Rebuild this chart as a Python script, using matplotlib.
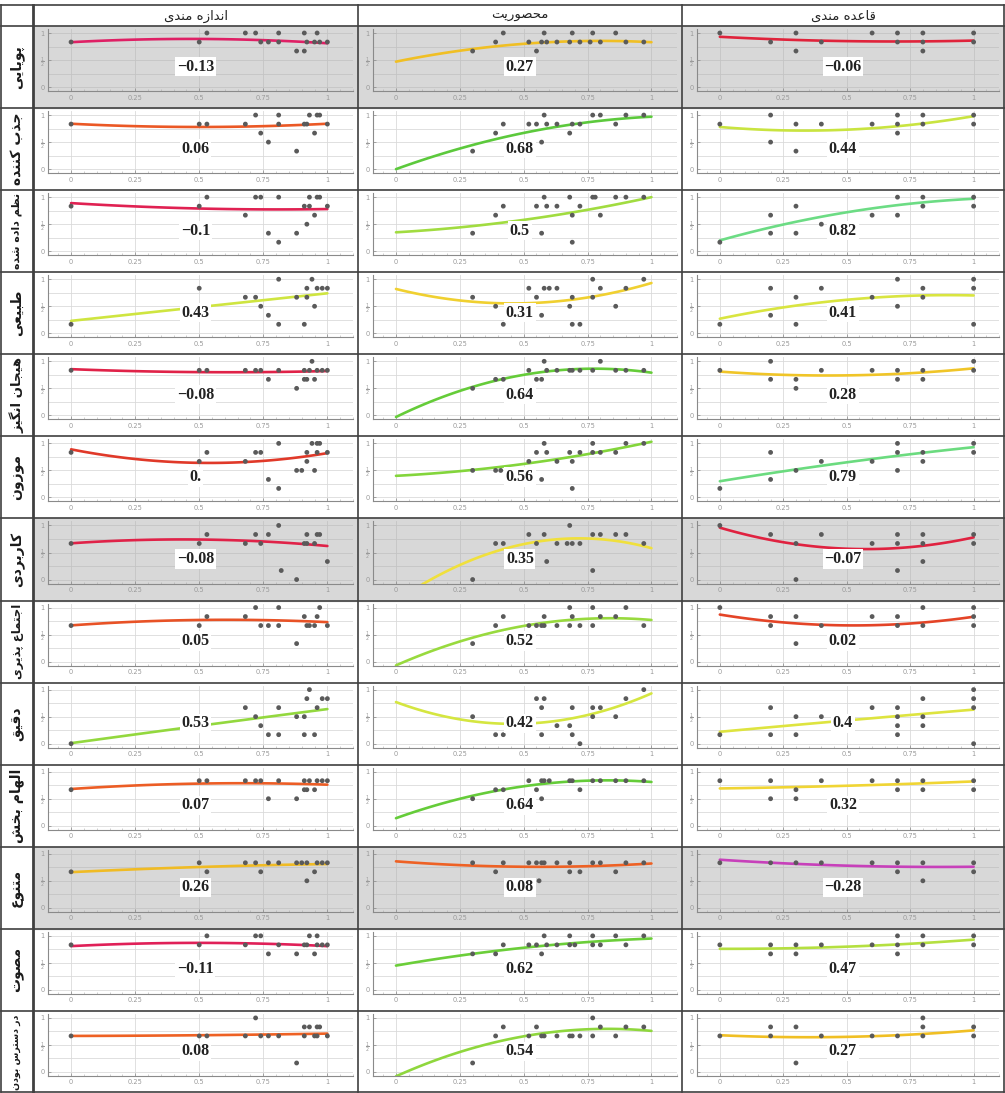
import numpy as np
import matplotlib
matplotlib.use('Agg')
import matplotlib.pyplot as plt
from matplotlib.patches import Rectangle
from matplotlib.lines import Line2D
from matplotlib.colors import LinearSegmentedColormap
from matplotlib.ticker import FixedLocator, MultipleLocator

# column headers (left to right) and row attributes (top to bottom)
col_titles = ['اندازه مندی', 'محصوریت', 'قاعده مندی']
row_labels = ['پویایی', 'جذب کننده', 'نظم داده شده', 'طبیعی', 'هیجان انگیز', 'موزون',
              'کاربردی', 'اجتماع پذیری', 'دقیق', 'الهام بخش', 'متنوع', 'مصوت',
              'در دسترس بودن']
shaded_rows = [0, 6, 10]

# correlation coefficients per row
r_size = [-0.13, 0.06, -0.1, 0.43, -0.08, 0.0, -0.08, 0.05, 0.53, 0.07, 0.26, -0.11, 0.08]
r_encl = [0.27, 0.68, 0.5, 0.31, 0.64, 0.56, 0.35, 0.52, 0.42, 0.64, 0.08, 0.62, 0.54]
r_order = [-0.06, 0.44, 0.82, 0.41, 0.28, 0.79, -0.07, 0.02, 0.4, 0.32, -0.28, 0.47, 0.27]

# trend curve values at x = 0, 0.5, 1
fit_size = [(0.83, 0.89, 0.81), (0.84, 0.78, 0.84), (0.89, 0.79, 0.78), (0.23, 0.485, 0.74),
            (0.855, 0.80, 0.82), (0.89, 0.64, 0.82), (0.67, 0.74, 0.62), (0.67, 0.77, 0.73),
            (0.01, 0.33, 0.64), (0.68, 0.78, 0.76), (0.66, 0.755, 0.81), (0.81, 0.87, 0.81),
            (0.667, 0.68, 0.71)]
fit_encl = [(0.47, 0.80, 0.83), (0.0, 0.67, 0.97), (0.35, 0.58, 1.0), (0.82, 0.555, 0.93),
            (-0.03, 0.75, 0.79), (0.40, 0.62, 1.03), (-0.40, 0.655, 0.58), (-0.07, 0.66, 0.77),
            (0.77, 0.37, 0.93), (0.14, 0.73, 0.81), (0.86, 0.76, 0.82), (0.45, 0.78, 0.95),
            (-0.08, 0.66, 0.76)]
fit_order = [(0.93, 0.85, 0.86), (0.78, 0.73, 0.98), (0.20, 0.72, 0.97), (0.27, 0.62, 0.70),
             (0.81, 0.74, 0.87), (0.30, 0.65, 0.93), (0.96, 0.57, 0.78), (0.87, 0.67, 0.83),
             (0.22, 0.43, 0.63), (0.69, 0.74, 0.82), (0.89, 0.78, 0.76), (0.76, 0.80, 0.93),
             (0.68, 0.65, 0.77)]

# scatter points: (x, score in sixths)
size_pts = [
    [(0, 5), (0.5, 5), (0.53, 6), (0.68, 6), (0.72, 6), (0.74, 5), (0.77, 5), (0.81, 5), (0.81, 6),
     (0.88, 4), (0.91, 4), (0.91, 6), (0.92, 5), (0.95, 5), (0.97, 5), (1.0, 5), (0.96, 6)],
    [(0, 5), (0.5, 5), (0.53, 5), (0.68, 5), (0.72, 6), (0.74, 4), (0.77, 3), (0.81, 6), (0.81, 5),
     (0.88, 2), (0.91, 5), (0.92, 5), (0.93, 6), (0.95, 4), (0.96, 6), (0.97, 6), (1.0, 5)],
    [(0, 5), (0.5, 5), (0.53, 6), (0.68, 4), (0.72, 6), (0.74, 6), (0.77, 2), (0.81, 1), (0.81, 6),
     (0.88, 2), (0.91, 5), (0.92, 3), (0.93, 5), (0.93, 6), (0.95, 4), (0.96, 6), (0.97, 6), (1.0, 5)],
    [(0, 1), (0.5, 5), (0.68, 4), (0.72, 4), (0.74, 3), (0.77, 2), (0.81, 6), (0.81, 1), (0.88, 4),
     (0.91, 1), (0.92, 5), (0.92, 4), (0.94, 6), (0.95, 3), (0.96, 5), (0.98, 5), (1.0, 5)],
    [(0, 5), (0.5, 5), (0.53, 5), (0.68, 5), (0.72, 5), (0.74, 5), (0.77, 4), (0.81, 5), (0.88, 3),
     (0.91, 4), (0.92, 4), (0.91, 5), (0.93, 5), (0.95, 4), (0.94, 6), (0.96, 5), (0.98, 5), (1.0, 5)],
    [(0, 5), (0.5, 4), (0.53, 5), (0.68, 4), (0.72, 5), (0.74, 5), (0.77, 2), (0.81, 6), (0.81, 1),
     (0.88, 3), (0.9, 3), (0.92, 4), (0.92, 5), (0.94, 6), (0.95, 3), (0.96, 6), (0.97, 6), (0.96, 5),
     (1.0, 5)],
    [(0, 4), (0.5, 4), (0.53, 5), (0.68, 4), (0.72, 5), (0.74, 4), (0.77, 5), (0.81, 6), (0.82, 1),
     (0.88, 0), (0.91, 4), (0.92, 4), (0.95, 4), (0.92, 5), (0.96, 5), (0.97, 5), (1.0, 2)],
    [(0, 4), (0.5, 4), (0.53, 5), (0.68, 5), (0.72, 6), (0.74, 4), (0.77, 4), (0.81, 6), (0.81, 4),
     (0.88, 2), (0.91, 5), (0.92, 4), (0.93, 4), (0.95, 4), (0.96, 5), (0.97, 6), (1.0, 4)],
    [(0, 0), (0.68, 4), (0.72, 3), (0.74, 2), (0.77, 1), (0.81, 1), (0.81, 4), (0.88, 3), (0.91, 3),
     (0.91, 1), (0.92, 5), (0.93, 6), (0.95, 1), (0.96, 4), (0.98, 5), (1.0, 5)],
    [(0, 4), (0.5, 5), (0.53, 5), (0.68, 5), (0.72, 5), (0.74, 5), (0.77, 3), (0.81, 5), (0.88, 3),
     (0.91, 4), (0.92, 4), (0.91, 5), (0.93, 5), (0.95, 4), (0.96, 5), (0.98, 5), (1.0, 5)],
    [(0, 4), (0.5, 5), (0.53, 4), (0.68, 5), (0.72, 5), (0.74, 4), (0.77, 5), (0.81, 5), (0.88, 5),
     (0.9, 5), (0.92, 5), (0.92, 3), (0.95, 4), (0.96, 5), (0.98, 5), (1.0, 5)],
    [(0, 5), (0.5, 5), (0.53, 6), (0.68, 5), (0.72, 6), (0.74, 6), (0.77, 4), (0.81, 5), (0.88, 4),
     (0.91, 5), (0.92, 5), (0.93, 6), (0.95, 4), (0.96, 6), (0.96, 5), (0.98, 5), (1.0, 5)],
    [(0, 4), (0.5, 4), (0.53, 4), (0.68, 4), (0.72, 6), (0.74, 4), (0.77, 4), (0.81, 4), (0.88, 1),
     (0.91, 4), (0.91, 5), (0.93, 5), (0.95, 4), (0.96, 4), (0.96, 5), (0.97, 5), (1.0, 4)],
]
encl_pts = [
    [(0.3, 4), (0.39, 5), (0.42, 6), (0.52, 5), (0.55, 4), (0.58, 6), (0.57, 5), (0.59, 5), (0.63, 5),
     (0.69, 6), (0.68, 5), (0.72, 5), (0.77, 6), (0.76, 5), (0.8, 5), (0.86, 6), (0.9, 5), (0.97, 5)],
    [(0.3, 2), (0.39, 4), (0.42, 5), (0.52, 5), (0.55, 5), (0.58, 6), (0.57, 3), (0.59, 5), (0.63, 5),
     (0.68, 4), (0.69, 5), (0.72, 5), (0.77, 6), (0.8, 6), (0.86, 5), (0.9, 6), (0.97, 6)],
    [(0.3, 2), (0.39, 4), (0.42, 5), (0.55, 5), (0.58, 6), (0.57, 2), (0.59, 5), (0.63, 5), (0.68, 6),
     (0.69, 4), (0.69, 1), (0.72, 5), (0.77, 6), (0.78, 6), (0.8, 4), (0.86, 6), (0.9, 6), (0.97, 6)],
    [(0.3, 4), (0.39, 3), (0.42, 1), (0.52, 5), (0.55, 4), (0.57, 2), (0.58, 5), (0.6, 5), (0.63, 5),
     (0.68, 3), (0.69, 4), (0.69, 1), (0.72, 1), (0.77, 6), (0.77, 4), (0.8, 5), (0.86, 3), (0.9, 5),
     (0.97, 6)],
    [(0.3, 3), (0.39, 4), (0.42, 4), (0.52, 5), (0.55, 4), (0.57, 4), (0.58, 6), (0.59, 5), (0.63, 5),
     (0.68, 5), (0.69, 5), (0.72, 5), (0.77, 5), (0.8, 6), (0.86, 5), (0.9, 5), (0.97, 5)],
    [(0.3, 3), (0.39, 3), (0.41, 3), (0.52, 4), (0.55, 5), (0.57, 2), (0.58, 6), (0.59, 5), (0.63, 4),
     (0.68, 5), (0.69, 4), (0.69, 1), (0.72, 5), (0.77, 6), (0.77, 5), (0.8, 5), (0.86, 5), (0.9, 6),
     (0.97, 6)],
    [(0.3, 0), (0.39, 4), (0.42, 4), (0.52, 5), (0.55, 4), (0.58, 5), (0.59, 2), (0.63, 4), (0.68, 6),
     (0.67, 4), (0.69, 4), (0.72, 4), (0.77, 5), (0.8, 5), (0.77, 1), (0.86, 5), (0.9, 5), (0.97, 4)],
    [(0.3, 2), (0.39, 4), (0.42, 5), (0.52, 4), (0.55, 4), (0.57, 4), (0.58, 4), (0.58, 5), (0.63, 4),
     (0.68, 6), (0.68, 4), (0.69, 5), (0.72, 4), (0.77, 6), (0.77, 4), (0.8, 5), (0.86, 5), (0.9, 6),
     (0.97, 4)],
    [(0.3, 3), (0.39, 1), (0.42, 1), (0.55, 5), (0.58, 5), (0.57, 4), (0.57, 1), (0.63, 2), (0.68, 2),
     (0.69, 4), (0.69, 1), (0.72, 0), (0.77, 4), (0.8, 4), (0.77, 3), (0.86, 3), (0.9, 5), (0.97, 6)],
    [(0.3, 3), (0.39, 4), (0.42, 4), (0.52, 5), (0.55, 4), (0.57, 5), (0.58, 5), (0.6, 5), (0.57, 3),
     (0.68, 5), (0.69, 5), (0.72, 4), (0.77, 5), (0.8, 5), (0.86, 5), (0.9, 5), (0.97, 5)],
    [(0.3, 5), (0.39, 4), (0.42, 5), (0.52, 5), (0.55, 5), (0.57, 5), (0.58, 5), (0.63, 5), (0.68, 5),
     (0.68, 4), (0.72, 4), (0.77, 5), (0.8, 5), (0.86, 4), (0.9, 5), (0.97, 5), (0.56, 3)],
    [(0.3, 4), (0.39, 4), (0.42, 5), (0.52, 5), (0.55, 5), (0.57, 4), (0.58, 6), (0.59, 5), (0.63, 5),
     (0.68, 6), (0.68, 5), (0.7, 5), (0.77, 6), (0.77, 5), (0.8, 5), (0.86, 6), (0.9, 5), (0.97, 6)],
    [(0.3, 1), (0.39, 4), (0.42, 5), (0.52, 4), (0.55, 5), (0.57, 4), (0.58, 4), (0.63, 4), (0.68, 4),
     (0.69, 4), (0.72, 4), (0.77, 6), (0.77, 4), (0.8, 5), (0.86, 4), (0.9, 5), (0.97, 5)],
]
order_pts = [
    [(0, 6), (0.2, 5), (0.3, 6), (0.3, 4), (0.4, 5), (0.6, 6), (0.7, 6), (0.7, 5), (0.8, 6), (0.8, 5),
     (0.8, 4), (1, 6), (1, 5)],
    [(0, 5), (0.2, 6), (0.2, 3), (0.3, 5), (0.3, 2), (0.4, 5), (0.6, 5), (0.7, 6), (0.7, 5), (0.7, 4),
     (0.8, 6), (0.8, 5), (1, 6), (1, 5)],
    [(0, 1), (0.2, 4), (0.2, 2), (0.3, 5), (0.3, 2), (0.4, 3), (0.6, 4), (0.7, 6), (0.7, 4), (0.8, 6),
     (0.8, 5), (1, 6), (1, 5)],
    [(0, 1), (0.2, 5), (0.2, 2), (0.3, 4), (0.3, 1), (0.4, 5), (0.6, 4), (0.7, 6), (0.7, 3), (0.8, 5),
     (0.8, 4), (1, 6), (1, 5), (1, 1)],
    [(0, 5), (0.2, 6), (0.2, 4), (0.3, 4), (0.3, 3), (0.4, 5), (0.6, 5), (0.7, 5), (0.7, 4), (0.8, 5),
     (0.8, 4), (1, 6), (1, 5)],
    [(0, 1), (0.2, 5), (0.2, 2), (0.3, 3), (0.4, 4), (0.6, 4), (0.7, 6), (0.7, 5), (0.7, 3), (0.8, 5),
     (0.8, 4), (1, 6), (1, 5)],
    [(0, 6), (0.2, 5), (0.3, 4), (0.3, 0), (0.4, 5), (0.6, 4), (0.7, 5), (0.7, 4), (0.7, 1), (0.8, 5),
     (0.8, 4), (0.8, 2), (1, 5), (1, 4)],
    [(0, 6), (0.2, 5), (0.2, 4), (0.3, 5), (0.3, 2), (0.4, 4), (0.6, 5), (0.7, 5), (0.7, 4), (0.8, 6),
     (0.8, 4), (1, 6), (1, 5), (1, 4)],
    [(0, 1), (0.2, 4), (0.2, 1), (0.3, 3), (0.3, 1), (0.4, 3), (0.6, 4), (0.7, 4), (0.7, 3), (0.7, 2),
     (0.7, 1), (0.8, 5), (0.8, 3), (0.8, 2), (1, 6), (1, 5), (1, 4), (1, 0)],
    [(0, 5), (0.2, 5), (0.2, 3), (0.3, 4), (0.3, 3), (0.4, 5), (0.6, 5), (0.7, 5), (0.7, 4), (0.8, 5),
     (0.8, 4), (1, 5), (1, 4)],
    [(0, 5), (0.2, 5), (0.3, 5), (0.4, 5), (0.6, 5), (0.7, 5), (0.7, 4), (0.8, 5), (0.8, 3), (1, 5),
     (1, 4)],
    [(0, 5), (0.2, 5), (0.2, 4), (0.3, 5), (0.3, 4), (0.4, 5), (0.6, 5), (0.7, 6), (0.7, 5), (0.7, 4),
     (0.8, 6), (0.8, 5), (1, 6), (1, 5)],
    [(0, 4), (0.2, 5), (0.2, 4), (0.3, 5), (0.3, 1), (0.4, 4), (0.6, 4), (0.7, 4), (0.8, 6), (0.8, 5),
     (0.8, 4), (1, 5), (1, 4)],
]

columns = [(size_pts, fit_size, r_size), (encl_pts, fit_encl, r_encl), (order_pts, fit_order, r_order)]

# matplotlib has no Arabic shaping, so map letters to presentation forms by hand
# value: (isolated-form code point, joins to the following letter)
ARABIC = {
    'ا': (0xFE8D, False), 'ب': (0xFE8F, True), 'ت': (0xFE95, True), 'ج': (0xFE9D, True),
    'ح': (0xFEA1, True), 'خ': (0xFEA5, True), 'د': (0xFEA9, False), 'ذ': (0xFEAB, False),
    'ر': (0xFEAD, False), 'ز': (0xFEAF, False), 'س': (0xFEB1, True), 'ش': (0xFEB5, True),
    'ص': (0xFEB9, True), 'ط': (0xFEC1, True), 'ظ': (0xFEC5, True), 'ع': (0xFEC9, True),
    'ق': (0xFED5, True), 'ل': (0xFEDD, True), 'م': (0xFEE1, True), 'ن': (0xFEE5, True),
    'ه': (0xFEE9, True), 'و': (0xFEED, False), 'پ': (0xFB56, True), 'ک': (0xFB8E, True),
    'گ': (0xFB92, True), 'ی': (0xFBFC, True),
}


def shape(text):
    text = text.replace('\u064a', '\u06cc').replace('\u0643', '\u06a9')
    out = []
    for i, ch in enumerate(text):
        if ch not in ARABIC:
            out.append(ch)
            continue
        base, dual = ARABIC[ch]
        prev = text[i - 1] if i > 0 else ''
        nxt = text[i + 1] if i + 1 < len(text) else ''
        jp = prev in ARABIC and ARABIC[prev][1]
        jn = dual and nxt in ARABIC
        k = 3 if (jp and jn) else 1 if jp else 2 if jn else 0
        out.append(chr(base + k))
    return ''.join(reversed(out))


def r_label(r):
    s = '%g' % abs(r)
    if '.' not in s:
        s += '.'
    return ('\u2212' if r < 0 else '') + s


# curve colour follows the correlation value
r_cmap_stops = [(-0.30, '#c444c4'), (-0.13, '#e01f63'), (-0.06, '#e0233a'), (0.0, '#e03a28'),
                (0.08, '#ee6224'), (0.18, '#f09a26'), (0.27, '#f0c024'), (0.35, '#f0e03c'),
                (0.42, '#d6e640'), (0.50, '#a2dc40'), (0.60, '#70d038'), (0.68, '#5cc83a'),
                (0.80, '#6cdc84'), (0.85, '#6cdc84')]
lo, hi = r_cmap_stops[0][0], r_cmap_stops[-1][0]
r_cmap = LinearSegmentedColormap.from_list(
    'rcol', [((v - lo) / (hi - lo), c) for v, c in r_cmap_stops])

W, H = 1005, 1093
fig = plt.figure(figsize=(W / 100, H / 100), dpi=100, facecolor='white')


def fx(px):
    return px / W


def fy(py):
    return 1 - py / H


col_edges = [33, 358, 682, 1004]
head_top, head_bot = 5, 26
row_h = (H - head_bot) / 13
grey = '#d8d8d8'

for i in range(13):
    top = head_bot + i * row_h
    bot = top + row_h
    for j in range(3):
        cl, cr = col_edges[j], col_edges[j + 1]
        shaded = i in shaded_rows
        if shaded:
            fig.add_artist(Rectangle((fx(cl), fy(bot)), fx(cr - cl), (bot - top) / H,
                                     transform=fig.transFigure, color=grey, zorder=-1))
        ax = fig.add_axes([fx(cl + 15), fy(bot - 17), fx((cr - 5) - (cl + 15)),
                           (bot - 17 - (top + 3)) / H])
        ax.set_facecolor('none')
        pts, fits, rs = columns[j]
        xs = np.array([p[0] for p in pts[i]])
        ys = np.array([p[1] for p in pts[i]]) / 6.0
        coef = np.polyfit([0, 0.5, 1], fits[i], 2)
        cx = np.linspace(0, 1, 120)
        ax.plot(cx, np.polyval(coef, cx), color=r_cmap((rs[i] - lo) / (hi - lo)),
                lw=1.9, solid_capstyle='round', zorder=2)
        ax.scatter(xs, ys, s=12, color='#5a5a5a', edgecolors='none', zorder=3)
        ax.text(0.485, 0.38, r_label(rs[i]), ha='center', va='center', fontsize=11.5,
                fontweight='bold', family='Liberation Serif', color='#222222', zorder=5,
                bbox=dict(boxstyle='square,pad=0.1', fc='white', ec='none'))

        ax.set_xlim(-0.09, 1.10)
        ax.set_ylim(-0.074, 1.074)
        ax.xaxis.set_major_locator(FixedLocator([0, 0.25, 0.5, 0.75, 1]))
        ax.set_xticklabels(['0', '0.25', '0.5', '0.75', '1'])
        ax.xaxis.set_minor_locator(MultipleLocator(0.05))
        ax.yaxis.set_major_locator(FixedLocator([0, 0.5, 1]))
        ax.set_yticklabels(['0', r'$\frac{1}{2}$', '1'])
        ax.yaxis.set_minor_locator(FixedLocator([0.25, 0.75]))
        gc = '#c4c4c4' if shaded else '#dadada'
        ax.xaxis.grid(True, which='major', color=gc, lw=0.6)
        ax.yaxis.grid(True, which='both', color=gc, lw=0.6)
        ax.set_axisbelow(True)
        for side in ('top', 'right'):
            ax.spines[side].set_visible(False)
        for side in ('left', 'bottom'):
            ax.spines[side].set_color('#8a8a8a')
            ax.spines[side].set_linewidth(0.8)
        ax.tick_params(which='major', direction='in', length=2.5, width=0.5, color='#888888',
                       labelsize=4.8, labelcolor='#9a9a9a', pad=2.5)
        ax.tick_params(which='minor', direction='in', length=1.2, width=0.4, color='#aaaaaa')
        ax.tick_params(axis='y', which='minor', length=0)

# header titles
for j, title in enumerate(col_titles):
    fig.text(fx((col_edges[j] + col_edges[j + 1]) / 2), fy((head_top + head_bot) / 2 + 0.5),
             shape(title), ha='center', va='center', fontsize=9.5, family='DejaVu Sans',
             color='#222222')

# row labels, shrunk to fit their cell
row_texts = []
for i, lab in enumerate(row_labels):
    yc = head_bot + (i + 0.5) * row_h
    t = fig.text(fx(17), fy(yc), shape(lab), rotation=90, ha='center', va='center',
                 fontsize=10, fontweight='bold', family='DejaVu Sans', color='#1a1a1a')
    row_texts.append(t)
fig.canvas.draw()
for t in row_texts:
    bb = t.get_window_extent()
    if bb.height > row_h - 6:
        t.set_fontsize(t.get_fontsize() * (row_h - 6) / bb.height)

# table rules
line_kw = dict(transform=fig.transFigure, color='#404040', zorder=10)
for yy in [head_top, head_bot] + [head_bot + (k + 1) * row_h for k in range(13)]:
    yy = min(yy, H - 1)
    fig.add_artist(Line2D([fx(1), fx(1004)], [fy(yy), fy(yy)], lw=1.2, **line_kw))
for xx in [1, 358, 682, 1004]:
    fig.add_artist(Line2D([fx(xx), fx(xx)], [fy(head_top), fy(H - 1)], lw=1.2, **line_kw))
fig.add_artist(Line2D([fx(33), fx(33)], [fy(head_top), fy(H - 1)], lw=2.0, **line_kw))

fig.savefig('out.png', dpi=100, facecolor='white')
